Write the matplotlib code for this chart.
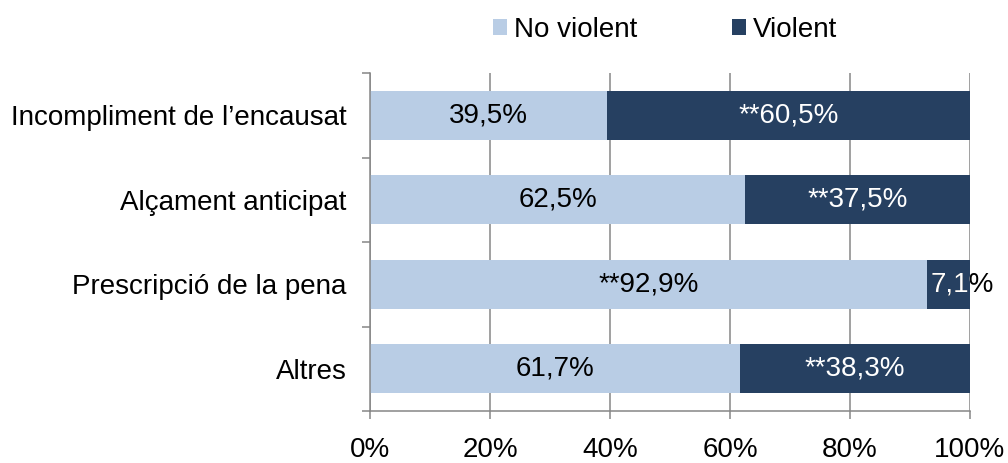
import matplotlib.pyplot as plt
from matplotlib.transforms import Bbox, TransformedBbox

# Data
categories = ["Incompliment de l\u2019encausat", "Al\u00e7ament anticipat",
              "Prescripci\u00f3 de la pena", "Altres"]
no_violent = [39.5, 62.5, 92.9, 61.7]
violent = [60.5, 37.5, 7.1, 38.3]
no_violent_labels = ["39,5%", "62,5%", "**92,9%", "61,7%"]
violent_labels = ["**60,5%", "**37,5%", "7,1%", "**38,3%"]
xticks = [0, 20, 40, 60, 80, 100]
xtick_labels = ["0%", "20%", "40%", "60%", "80%", "100%"]

light = "#B9CDE5"
dark = "#264061"
grey = "#868686"
bar_h = 0.58

plt.rcParams['font.family'] = ['Liberation Sans', 'DejaVu Sans']

fig = plt.figure(figsize=(10.08, 4.63), dpi=100)
ax = fig.add_axes([370 / 1008, 1 - 411 / 463, 600 / 1008, 338 / 463])

y = list(range(len(categories)))
ax.barh(y, no_violent, height=bar_h, color=light, label="No violent", zorder=2)
ax.barh(y, violent, left=no_violent, height=bar_h, color=dark, label="Violent", zorder=2)

# labels in the bars
for i in y:
    ax.text(no_violent[i] / 2, i, no_violent_labels[i], ha='center', va='center',
            fontsize=20, color='black', zorder=3)
    if violent[i] > 15:
        ax.text(no_violent[i] + violent[i] / 2, i, violent_labels[i], ha='center',
                va='center', fontsize=20, color='white', zorder=3)
    else:
        # label wider than the bar: black text, white where it sits on the bar
        x0 = no_violent[i] + 0.5
        ax.text(x0, i, violent_labels[i], ha='left', va='center',
                fontsize=20, color='black', zorder=3, clip_on=False)
        t = ax.text(x0, i, violent_labels[i], ha='left', va='center',
                    fontsize=20, color='white', zorder=4)
        box = Bbox([[no_violent[i], i - bar_h / 2], [no_violent[i] + violent[i], i + bar_h / 2]])
        t.set_clip_box(TransformedBbox(box, ax.transData))
        t.set_clip_on(True)

ax.set_xlim(0, 100)
ax.set_ylim(3.5, -0.5)
ax.set_xticks(xticks)
ax.set_xticklabels(xtick_labels, fontsize=20)
ax.set_yticks(y)
ax.set_yticklabels(categories, fontsize=20)
ax.set_yticks([-0.5, 0.5, 1.5, 2.5, 3.5], minor=True)

ax.tick_params(axis='y', which='major', length=0, pad=17)
ax.tick_params(axis='y', which='minor', length=5.5, width=1.1, color=grey)
ax.tick_params(axis='x', length=5.5, width=1.1, color=grey, pad=13)

ax.grid(axis='x', color=grey, linewidth=1.1, zorder=1)
for s in ['top', 'right']:
    ax.spines[s].set_visible(False)
for s in ['left', 'bottom']:
    ax.spines[s].set_color(grey)
    ax.spines[s].set_linewidth(1.1)

fig.legend(loc='center', bbox_to_anchor=(0.66, 0.935), ncol=2, frameon=False,
           fontsize=20, handlelength=0.5, handleheight=0.5, handletextpad=0.25,
           columnspacing=3.4)

fig.savefig("out.png", dpi=100)
